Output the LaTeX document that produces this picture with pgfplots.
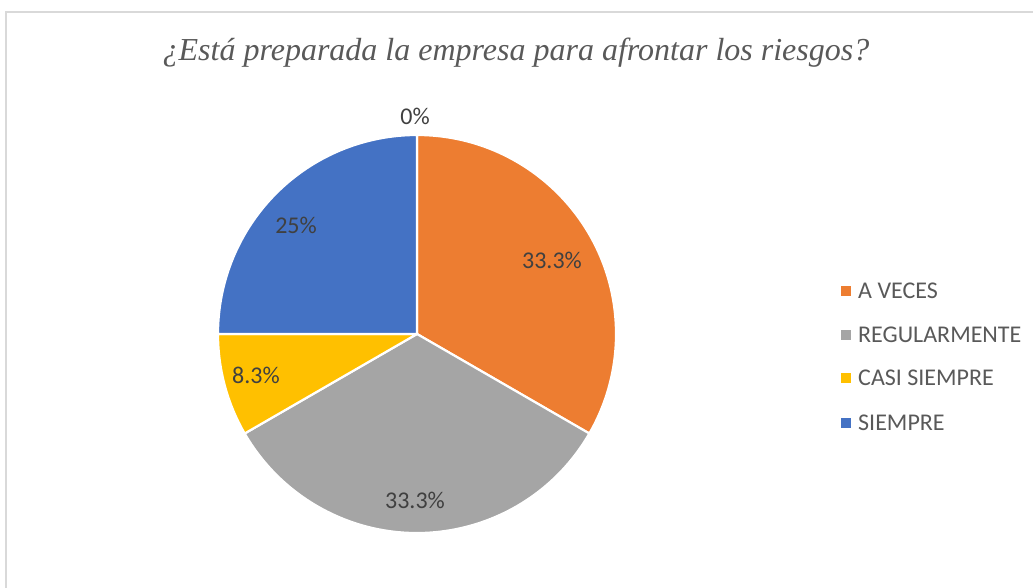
\documentclass[border=0pt]{standalone}
\usepackage{fontspec}
\setmainfont{Carlito}
\newfontfamily\titlefont{Liberation Serif}
\usepackage{pgfplots}
\pgfplotsset{compat=1.18}
\usepackage{pgfplotstable}
\definecolor{cOrange}{HTML}{ED7D31}
\definecolor{cGray}{HTML}{A5A5A5}
\definecolor{cYellow}{HTML}{FFC000}
\definecolor{cBlue}{HTML}{4472C4}
\definecolor{cText}{HTML}{404040}
\definecolor{cLeg}{HTML}{595959}
\definecolor{cBorder}{HTML}{D9D9D9}
% percentages of each answer (clockwise from the top)
\pgfplotstableread[col sep=comma]{
label,pct,lab
NUNCA,0,0\%
A VECES,33.333,33.3\%
REGULARMENTE,33.333,33.3\%
CASI SIEMPRE,8.333,8.3\%
SIEMPRE,25,25\%
}\piedata
\begin{document}
\begin{tikzpicture}[x=1pt,y=1pt]
\useasboundingbox (0,0) rectangle (1033,588);
\begin{axis}[
  at={(0,0)}, anchor=south west,
  width=1033pt, height=588pt, scale only axis,
  xmin=0, xmax=1033, ymin=0, ymax=588, y dir=reverse,
  hide axis, clip=false,
]
% border
\draw[cBorder, line width=1.5pt] (axis cs:6,588) -- (axis cs:6,12) -- (axis cs:1033,12);
% title
\node[font=\titlefont\itshape\fontsize{32}{36}\selectfont, text=cLeg] at (axis cs:516,53) {¿Está preparada la empresa para afrontar los riesgos?};
% pie slices
\pgfplotstablegetelem{1}{pct}\of\piedata \let\pA\pgfplotsretval
\pgfplotstablegetelem{2}{pct}\of\piedata \let\pB\pgfplotsretval
\pgfplotstablegetelem{3}{pct}\of\piedata \let\pC\pgfplotsretval
\pgfplotstablegetelem{4}{pct}\of\piedata \let\pD\pgfplotsretval
\pgfmathsetmacro\aA{90}
\pgfmathsetmacro\aB{\aA-3.6*\pA}
\pgfmathsetmacro\aC{\aB-3.6*\pB}
\pgfmathsetmacro\aD{\aC-3.6*\pC}
\pgfmathsetmacro\aE{\aD-3.6*\pD}
\filldraw[fill=cOrange, draw=white, line width=2.2pt, line join=round] (axis cs:417,334) -- +(\aA:199pt) arc[start angle=\aA, end angle=\aB, radius=199pt] -- cycle;
\filldraw[fill=cGray, draw=white, line width=2.2pt, line join=round] (axis cs:417,334) -- +(\aB:199pt) arc[start angle=\aB, end angle=\aC, radius=199pt] -- cycle;
\filldraw[fill=cYellow, draw=white, line width=2.2pt, line join=round] (axis cs:417,334) -- +(\aC:199pt) arc[start angle=\aC, end angle=\aD, radius=199pt] -- cycle;
\filldraw[fill=cBlue, draw=white, line width=2.2pt, line join=round] (axis cs:417,334) -- +(\aD:199pt) arc[start angle=\aD, end angle=\aE, radius=199pt] -- cycle;
% data labels
\begin{scope}[every node/.style={font=\fontsize{24}{28}\selectfont, text=cText}]
\node at (axis cs:415,116) {0\%};
\node at (axis cs:552,260) {33.3\%};
\node at (axis cs:415,500) {33.3\%};
\node at (axis cs:256,375) {8.3\%};
\node at (axis cs:296,225) {25\%};
\end{scope}
% legend
\begin{scope}[every node/.style={font=\fontsize{24}{28}\selectfont, text=cLeg, anchor=west, inner sep=0pt}]
\fill[cOrange] (axis cs:841,286) rectangle (axis cs:851,296);
\node at (axis cs:858,291) {A VECES};
\fill[cGray] (axis cs:841,330) rectangle (axis cs:851,340);
\node at (axis cs:858,335) {REGULARMENTE};
\fill[cYellow] (axis cs:841,373) rectangle (axis cs:851,383);
\node at (axis cs:858,378) {CASI SIEMPRE};
\fill[cBlue] (axis cs:841,418) rectangle (axis cs:851,428);
\node at (axis cs:858,423) {SIEMPRE};
\end{scope}
\end{axis}
\end{tikzpicture}
\end{document}
